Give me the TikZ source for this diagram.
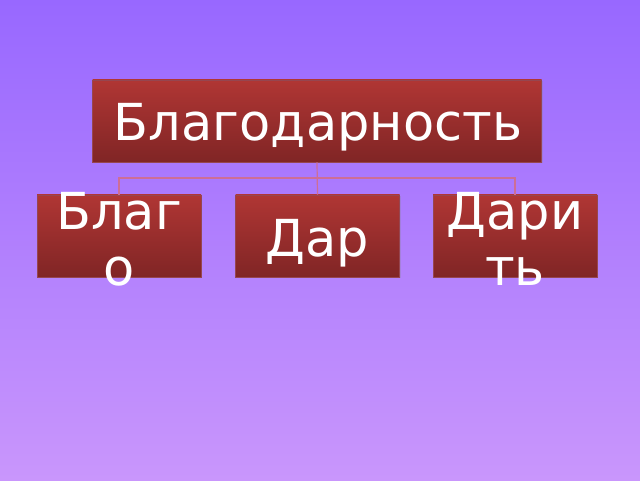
\documentclass[tikz,border=0pt]{standalone}
\usepackage{fontspec}
\setmainfont{DejaVu Sans}
\usetikzlibrary{shadows}
\definecolor{bgtop}{RGB}{152,104,255}
\definecolor{bgbot}{RGB}{201,150,252}
\definecolor{boxtop}{RGB}{176,54,52}
\definecolor{boxbot}{RGB}{128,37,37}
\definecolor{boxedge}{RGB}{150,70,80}
\definecolor{linkcol}{RGB}{205,110,150}
\tikzset{
  box/.style={rectangle, top color=boxtop, bottom color=boxbot, draw=boxedge, line width=0.6pt,
    inner sep=0pt, drop shadow={opacity=0.25, shadow xshift=1pt, shadow yshift=-1pt}},
  lbl/.style={text=white, font=\fontsize{51}{55}\selectfont, align=center, inner sep=0pt},
  link/.style={draw=linkcol, line width=1.2pt}
}
\begin{document}
\begin{tikzpicture}[x=1pt,y=1pt]
\useasboundingbox (0,0) rectangle (640,480);
\shade[top color=bgtop, bottom color=bgbot] (0,0) rectangle (640,480);
% boxes
\node[box, minimum width=449pt, minimum height=82pt] (top) at (317,359) {};
\node[box, minimum width=164pt, minimum height=82pt] (b1) at (119,244) {};
\node[box, minimum width=164pt, minimum height=82pt] (b2) at (317.5,244) {};
\node[box, minimum width=164pt, minimum height=82pt] (b3) at (515,244) {};
% connectors
\coordinate (j) at (317,302);
\draw[link] (top.south) -- (b2.north);
\draw[link] (b1.north) |- (j) -| (b3.north);
% texts
\node[lbl, anchor=base] (t0) at (318,339) {Благодарность};
\node[lbl, anchor=base] (t1a) at (119,250) {Благ};
\node[lbl, anchor=base] (t1b) at (119,195) {о};
\node[lbl, anchor=base] (t2) at (317.5,223) {Дар};
\node[lbl, anchor=base] (t3a) at (515,250) {Дари};
\node[lbl, anchor=base] (t3b) at (515,195) {ть};
\end{tikzpicture}
\end{document}
